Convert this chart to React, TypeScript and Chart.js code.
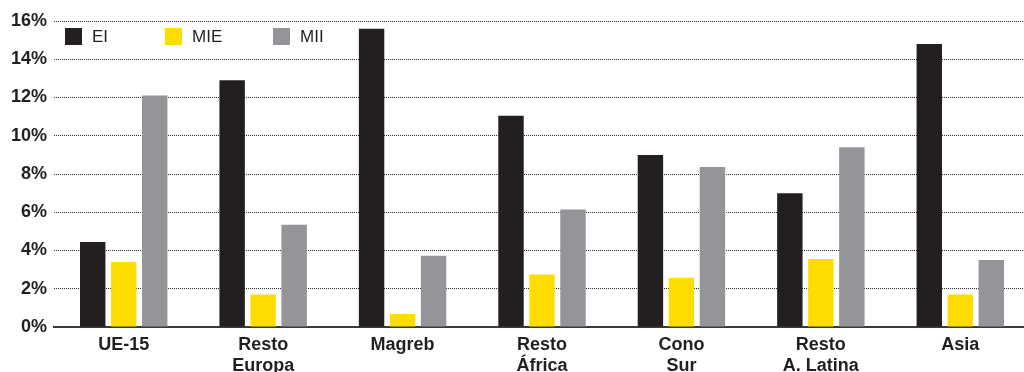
import React, { useEffect, useRef } from "react";
import { Chart, registerables } from "chart.js";

Chart.register(...registerables);

const categories: string[][] = [
  ["UE-15"],
  ["Resto", "Europa"],
  ["Magreb"],
  ["Resto", "África"],
  ["Cono", "Sur"],
  ["Resto", "A. Latina"],
  ["Asia"],
];
const seriesEI = [4.45, 12.9, 15.6, 11.05, 9.0, 7.0, 14.8];
const seriesMIE = [3.4, 1.7, 0.68, 2.75, 2.58, 3.55, 1.7];
const seriesMII = [12.1, 5.35, 3.72, 6.15, 8.37, 9.4, 3.5];
const seriesNames = ["EI", "MIE", "MII"];
const yTicks = [0, 2, 4, 6, 8, 10, 12, 14, 16];

const INK = "#231f20";
const COLORS = ["#231f20", "#ffdd00", "#939598"];

const legendPlugin = {
  id: "customLegend",
  afterDraw(chart: any) {
    const ctx = chart.ctx;
    const xs = [65, 165, 273];
    ctx.save();
    chart.data.datasets.forEach((ds: any, i: number) => {
      const x = xs[i];
      const y = 28;
      ctx.fillStyle = ds.backgroundColor;
      ctx.fillRect(x, y, 17, 17);
      ctx.fillStyle = INK;
      ctx.font = "17px 'Liberation Sans', Arial, sans-serif";
      ctx.textBaseline = "middle";
      ctx.textAlign = "left";
      ctx.fillText(ds.label, x + 27, y + 9);
    });
    ctx.restore();
  },
};

export default function App() {
  const ref = useRef<HTMLCanvasElement>(null);
  useEffect(() => {
    if (!ref.current) return;
    const data = [seriesEI, seriesMIE, seriesMII];
    const chart = new Chart(ref.current, {
      type: "bar",
      data: {
        labels: categories,
        datasets: data.map((d, i) => ({
          label: seriesNames[i],
          data: d,
          backgroundColor: COLORS[i],
          categoryPercentage: 0.667,
          barPercentage: 0.82,
        })),
      },
      options: {
        responsive: false,
        animation: false,
        layout: { padding: { top: 21, left: 0, right: 0, bottom: 0 } },
        plugins: { legend: { display: false }, tooltip: { enabled: false } },
        scales: {
          x: {
            grid: { display: false, drawTicks: false },
            border: { display: true, color: "#3a3a3c", width: 2 },
            ticks: {
              color: INK,
              font: { family: "'Liberation Sans', Arial, sans-serif", size: 18, weight: "bold", lineHeight: 1.15 },
              padding: 8,
              maxRotation: 0,
              autoSkip: false,
            },
            afterFit: (s: any) => {
              s.height = 45;
            },
          },
          y: {
            min: 0,
            max: 16,
            afterBuildTicks: (s: any) => {
              s.ticks = yTicks.map((v) => ({ value: v }));
            },
            grid: {
              color: "#2a2a2a",
              lineWidth: 1,
              drawTicks: false,
            },
            border: { display: false, dash: [1, 1] },
            ticks: {
              color: INK,
              font: { family: "'Liberation Sans', Arial, sans-serif", size: 18, weight: "bold" },
              padding: 7,
              callback: (v: any) => v + "%",
            },
            afterFit: (s: any) => {
              s.width = 54;
            },
          },
        },
      },
      plugins: [legendPlugin],
    });
    return () => chart.destroy();
  }, []);
  return (
    <div style={{ position: "fixed", left: 0, top: 0, width: 1024, height: 372, overflow: "hidden", background: "#fff" }}>
      <canvas ref={ref} width={1030} height={372} style={{ display: "block" }} />
    </div>
  );
}
